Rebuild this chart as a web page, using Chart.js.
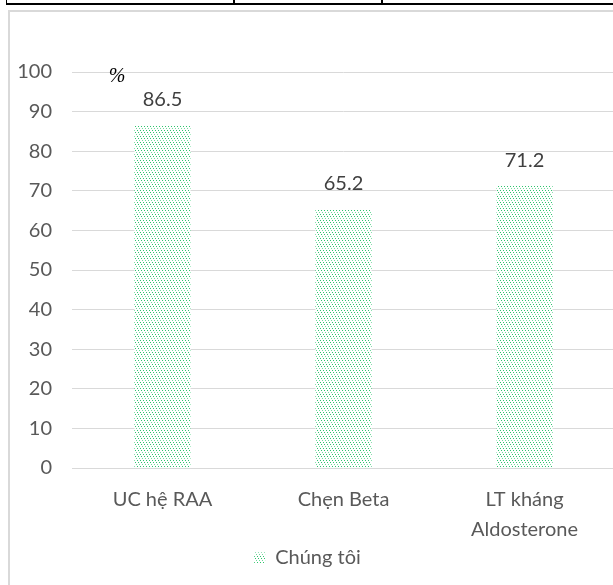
<!DOCTYPE html>
<html lang="vi">
<head>
  <meta charset="UTF-8">
  <title>Biểu đồ thuốc</title>
  <script src="https://cdn.jsdelivr.net/npm/chart.js"></script>
  <style>
    body { margin: 0; background: #fff; overflow: hidden; width: 613px; height: 585px; position: relative; }
    .tbl { position: absolute; top: 0; left: 6px; width: 700px; height: 3px; border-left: 1px solid #000; border-bottom: 2px solid #000; }
    .col { position: absolute; top: 0; width: 2px; height: 4px; background: #000; }
    .frame { position: absolute; left: 8px; top: 10px; width: 700px; height: 700px; border-left: 2px solid #d9d9d9; border-top: 2px solid #d9d9d9; }
    #wrap { position: absolute; left: 0; top: 0; width: 640px; height: 578px; }
  </style>
</head>
<body>
  <div class="tbl"></div>
  <div class="col" style="left:233px"></div>
  <div class="col" style="left:381px"></div>
  <div class="frame"></div>
  <div id="wrap"><canvas id="c" width="640" height="578"></canvas></div>

  <script>
    const categories = [['UC hệ RAA'], ['Chẹn Beta'], ['LT kháng', 'Aldosterone']];
    const values = [86.5, 65.2, 71.2];
    const seriesName = 'Chúng tôi';
    const yTicks = [0, 10, 20, 30, 40, 50, 60, 70, 80, 90, 100];

    const font = 'Lato, "Open Sans", sans-serif';

    // kiểu chấm xanh như Excel
    function dotPattern() {
      const p = document.createElement('canvas');
      p.width = 6; p.height = 6;
      const g = p.getContext('2d');
      g.fillStyle = '#fff';
      g.fillRect(0, 0, 6, 6);
      g.fillStyle = '#2fc46e';
      g.fillRect(0, 0, 1, 1);
      g.fillRect(3, 0, 1, 1);
      g.fillStyle = '#6fdb9b';
      g.fillRect(1, 2, 1, 1);
      g.fillRect(4, 2, 1, 1);
      g.fillStyle = '#2fc46e';
      g.fillRect(2, 4, 1, 1);
      g.fillRect(5, 4, 1, 1);
      return g.createPattern(p, 'repeat');
    }

    const extras = {
      id: 'extras',
      afterDatasetsDraw(chart) {
        const ctx = chart.ctx;
        const meta = chart.getDatasetMeta(0);
        ctx.save();
        ctx.fillStyle = '#404040';
        ctx.font = '20px ' + font;
        ctx.textAlign = 'center';
        ctx.textBaseline = 'middle';
        meta.data.forEach((bar, i) => {
          ctx.fillText(values[i].toFixed(1), bar.x, bar.y - 26);
        });
        ctx.fillStyle = '#000';
        ctx.font = 'italic 20px "Liberation Serif", serif';
        ctx.fillText('%', 117, 77);
        ctx.restore();
      }
    };

    new Chart(document.getElementById('c'), {
      type: 'bar',
      data: {
        labels: categories,
        datasets: [{
          label: seriesName,
          data: values,
          backgroundColor: dotPattern(),
          borderWidth: 0,
          categoryPercentage: 1,
          barPercentage: 0.31
        }]
      },
      options: {
        responsive: false,
        animation: false,
        layout: { padding: { top: 72, right: 25, left: 0, bottom: 0 } },
        plugins: {
          tooltip: { enabled: false },
          legend: {
            position: 'bottom',
            labels: {
              color: '#595959',
              font: { family: font, size: 20 },
              boxWidth: 11,
              boxHeight: 11,
              padding: 8
            }
          }
        },
        scales: {
          x: {
            afterFit(scale) { scale.height = 72; },
            grid: { display: false },
            border: { display: false },
            ticks: {
              color: '#595959',
              font: { family: font, size: 20, lineHeight: 1.5 },
              padding: 9,
              maxRotation: 0
            }
          },
          y: {
            min: 0,
            max: 100,
            afterBuildTicks(scale) { scale.ticks = yTicks.map(v => ({ value: v })); },
            afterFit(scale) { scale.width = 72; },
            grid: { color: '#d9d9d9', drawTicks: false },
            border: { display: false },
            ticks: {
              color: '#595959',
              font: { family: font, size: 20 },
              padding: 20
            }
          }
        }
      },
      plugins: [extras]
    });
  </script>
</body>
</html>
